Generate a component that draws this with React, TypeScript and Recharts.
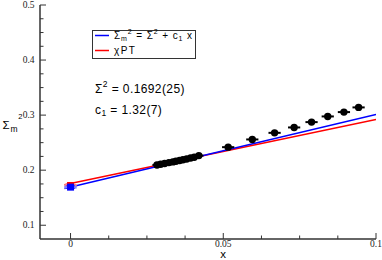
import React from 'react';
import { ComposedChart, Scatter, Line, XAxis, YAxis, ErrorBar, Legend } from 'recharts';

// Lattice data points (x, Sigma_m^2) with horizontal errors
const latticeX = [0.0283, 0.0295, 0.0308, 0.0322, 0.0335, 0.0345, 0.0357, 0.0368, 0.038, 0.0393, 0.0405, 0.042, 0.0516, 0.0595, 0.0668, 0.0732, 0.0789, 0.0842, 0.0895, 0.0943];
const latticeY = [0.2095, 0.2108, 0.2122, 0.2138, 0.215, 0.2163, 0.2177, 0.219, 0.2204, 0.222, 0.2236, 0.2265, 0.2418, 0.2558, 0.2678, 0.2776, 0.2873, 0.2976, 0.3055, 0.314];
const latticeXErr = [0.0015, 0.0015, 0.0015, 0.0015, 0.0015, 0.0015, 0.0015, 0.0015, 0.0015, 0.0015, 0.0015, 0.0015, 0.002, 0.002, 0.002, 0.002, 0.002, 0.002, 0.002, 0.002];

// Extrapolated points at x = 0
const physX = [0];
const fitPointY = [0.1692];
const fitPointErr = [0.0025];
const chptPointY = [0.1722];
const physXErr = [0.002];

// Fit lines
const lineX = [-0.002, 0.1];
const fitLineY = [0.1666, 0.3012];
const chptLineY = [0.1735, 0.2922];

// Axes
const xTicks = [0, 0.0125, 0.025, 0.0375, 0.05, 0.0625, 0.075, 0.0875, 0.1];
const xMajor = [0, 0.05, 0.1];
const xLabels = ['0', '0.05', '0.1'];
const yTicks = [0.1, 0.125, 0.15, 0.175, 0.2, 0.225, 0.25, 0.275, 0.3, 0.325, 0.35, 0.375, 0.4, 0.425, 0.45, 0.475, 0.5];
const yMajor = [0.1, 0.2, 0.3, 0.4, 0.5];
const yLabels = ['0.1', '0.2', '0.3', '0.4', '0.5'];
const xDomain = [-0.01, 0.1];
const yDomain = [0.075, 0.5];

const latticeData = latticeX.map((x, i) => ({ x, y: latticeY[i], ex: latticeXErr[i] }));
const fitPointData = physX.map((x, i) => ({ x, y: fitPointY[i], ey: fitPointErr[i], ex: physXErr[i] }));
const chptPointData = physX.map((x, i) => ({ x, y: chptPointY[i], ex: physXErr[i] }));
const fitLineData = lineX.map((x, i) => ({ x, y: fitLineY[i] }));
const chptLineData = lineX.map((x, i) => ({ x, y: chptLineY[i] }));

const AXIS = '#333';
const TICK_FONT = '"Liberation Serif", "DejaVu Serif", serif';
const SANS = '"Liberation Sans", Arial, sans-serif';

const findMajor = (v: number, majors: number[]) => majors.findIndex((m) => Math.abs(m - v) < 1e-9);

const BottomTick = (props: any) => {
  const { x, y, payload } = props;
  const i = findMajor(payload.value, xMajor);
  const len = i >= 0 ? 6 : 3.5;
  return (
    <g>
      <line x1={x} y1={y} x2={x} y2={y - len} stroke={AXIS} strokeWidth={1} />
      {i >= 0 && (
        <text x={x} y={y + 7.5} textAnchor="middle" fontSize={9.5} fontFamily={TICK_FONT} fill="#222">
          {xLabels[i]}
        </text>
      )}
    </g>
  );
};

const TopTick = (props: any) => {
  const { x, y, payload } = props;
  const i = findMajor(payload.value, xMajor);
  const len = i >= 0 ? 6 : 3.5;
  return <line x1={x} y1={y} x2={x} y2={y + len} stroke={AXIS} strokeWidth={1} />;
};

const LeftTick = (props: any) => {
  const { x, y, payload } = props;
  const i = findMajor(payload.value, yMajor);
  const len = i >= 0 ? 6 : 3.5;
  return (
    <g>
      <line x1={x} y1={y} x2={x + len} y2={y} stroke={AXIS} strokeWidth={1} />
      {i >= 0 && (
        <text x={x - 5.5} y={y + 3.2} textAnchor="end" fontSize={9.5} fontFamily={TICK_FONT} fill="#222">
          {yLabels[i]}
        </text>
      )}
    </g>
  );
};

const RightTick = (props: any) => {
  const { x, y, payload } = props;
  const i = findMajor(payload.value, yMajor);
  const len = i >= 0 ? 6 : 3.5;
  return <line x1={x} y1={y} x2={x - len} y2={y} stroke={AXIS} strokeWidth={1} />;
};

const Dot = (props: any) => <circle cx={props.cx} cy={props.cy} r={3.7} fill="#000" />;
const BlueSquare = (props: any) => (
  <rect x={props.cx - 3.5} y={props.cy - 3.5} width={7} height={7} fill="#0000ff" />
);
const RedSquare = (props: any) => (
  <rect x={props.cx - 3.5} y={props.cy - 3.5} width={7} height={7} fill="#ff0000" />
);

const renderLegend = () => (
  <svg width={104} height={29} style={{ display: 'block', overflow: 'visible' }}>
    <rect x={0.5} y={0.5} width={103} height={28} fill="#fff" stroke="#333" strokeWidth={1} />
    <line x1={3} x2={17} y1={5.5} y2={5.5} stroke="#0000ff" strokeWidth={1.5} />
    <text x={22} y={8.5} fontSize={10} fontFamily={SANS} fill="#000" letterSpacing={0.9}>
      Σ
      <tspan fontSize={7} dy={2}>m</tspan>
      <tspan fontSize={7} dy={-6.5}>2</tspan>
      <tspan dy={4.5}> = Σ</tspan>
      <tspan fontSize={7} dy={-4.5}>2</tspan>
      <tspan dy={4.5}> + c</tspan>
      <tspan fontSize={7} dy={2}>1</tspan>
      <tspan dy={-2}> x</tspan>
    </text>
    <line x1={3} x2={17} y1={20.5} y2={20.5} stroke="#ff0000" strokeWidth={1.5} />
    <text x={22} y={23.5} fontSize={10} fontFamily={SANS} fill="#000" letterSpacing={1.4}>
      χPT
    </text>
  </svg>
);

export default function App() {
  return (
    <div style={{ position: 'absolute', left: 0, top: 0, width: 382, height: 260, background: '#fff' }}>
      <ComposedChart width={382} height={260} margin={{ top: 5, right: 6, bottom: 0, left: 0 }}>
        <XAxis
          xAxisId={0}
          dataKey="x"
          type="number"
          domain={xDomain}
          ticks={xTicks}
          interval={0}
          allowDataOverflow
          height={21}
          tickSize={0}
          tickMargin={0}
          tick={<BottomTick />}
          axisLine={{ stroke: AXIS, strokeWidth: 1.5 }}
          tickLine={false}
        />
        <XAxis
          xAxisId="top"
          orientation="top"
          type="number"
          domain={xDomain}
          ticks={xTicks}
          interval={0}
          allowDataOverflow
          height={0}
          tickSize={0}
          tickMargin={0}
          tick={<TopTick />}
          axisLine={{ stroke: AXIS, strokeWidth: 1.5 }}
          tickLine={false}
        />
        <YAxis
          yAxisId={0}
          dataKey="y"
          type="number"
          domain={yDomain}
          ticks={yTicks}
          interval={0}
          allowDataOverflow
          width={40}
          tickSize={0}
          tickMargin={0}
          tick={<LeftTick />}
          axisLine={{ stroke: AXIS, strokeWidth: 1.5 }}
          tickLine={false}
        />
        <YAxis
          yAxisId="right"
          orientation="right"
          type="number"
          domain={yDomain}
          ticks={yTicks}
          interval={0}
          allowDataOverflow
          width={0}
          tickSize={0}
          tickMargin={0}
          tick={<RightTick />}
          axisLine={{ stroke: AXIS, strokeWidth: 1.5 }}
          tickLine={false}
        />
        <Line
          data={chptLineData}
          dataKey="y"
          stroke="#ff0000"
          strokeWidth={1.5}
          dot={false}
          isAnimationActive={false}
          legendType="none"
        />
        <Line
          data={fitLineData}
          dataKey="y"
          stroke="#0000ff"
          strokeWidth={1.5}
          dot={false}
          isAnimationActive={false}
          legendType="none"
        />
        <Scatter data={chptPointData} dataKey="y" shape={<RedSquare />} isAnimationActive={false} legendType="none">
          <ErrorBar dataKey="ex" direction="x" width={0} stroke="#ff8080" strokeWidth={3} />
        </Scatter>
        <Scatter data={fitPointData} dataKey="y" shape={<BlueSquare />} isAnimationActive={false} legendType="none">
          <ErrorBar dataKey="ex" direction="x" width={0} stroke="#8080ff" strokeWidth={3} />
          <ErrorBar dataKey="ey" direction="y" width={4} stroke="#0000ff" strokeWidth={1} />
        </Scatter>
        <Scatter data={latticeData} dataKey="y" shape={<Dot />} isAnimationActive={false} legendType="none">
          <ErrorBar dataKey="ex" direction="x" width={0} stroke="#000" strokeWidth={2} />
        </Scatter>
        <Legend
          layout="vertical"
          align="center"
          verticalAlign="middle"
          content={renderLegend}
          wrapperStyle={{ position: 'absolute', left: 92, top: 30, width: 104, height: 29 }}
        />
      </ComposedChart>
      <svg
        width={382}
        height={260}
        style={{ position: 'absolute', left: 0, top: 0, pointerEvents: 'none' }}
      >
        <text x={95} y={92.5} fontSize={12} fontFamily={SANS} fill="#000" letterSpacing={0.4}>
          Σ<tspan fontSize={8.5} dy={-5.5}>2</tspan>
          <tspan dy={5.5}> = 0.1692(25)</tspan>
        </text>
        <text x={95} y={113.5} fontSize={12} fontFamily={SANS} fill="#000" letterSpacing={0.4}>
          c<tspan fontSize={8.5} dy={2.5}>1</tspan>
          <tspan dy={-2.5}> = 1.32(7)</tspan>
        </text>
        <text x={2.5} y={129} fontSize={11.5} fontFamily={SANS} fill="#000">
          Σ
        </text>
        <text x={10.5} y={132} fontSize={8.5} fontFamily={SANS} fill="#000">
          m
        </text>
        <text x={18.3} y={119} fontSize={7.5} fontFamily={SANS} fill="#000">
          2
        </text>
        <text x={223} y={258} textAnchor="middle" fontSize={11.5} fontFamily={SANS} fill="#000">
          x
        </text>
      </svg>
    </div>
  );
}
